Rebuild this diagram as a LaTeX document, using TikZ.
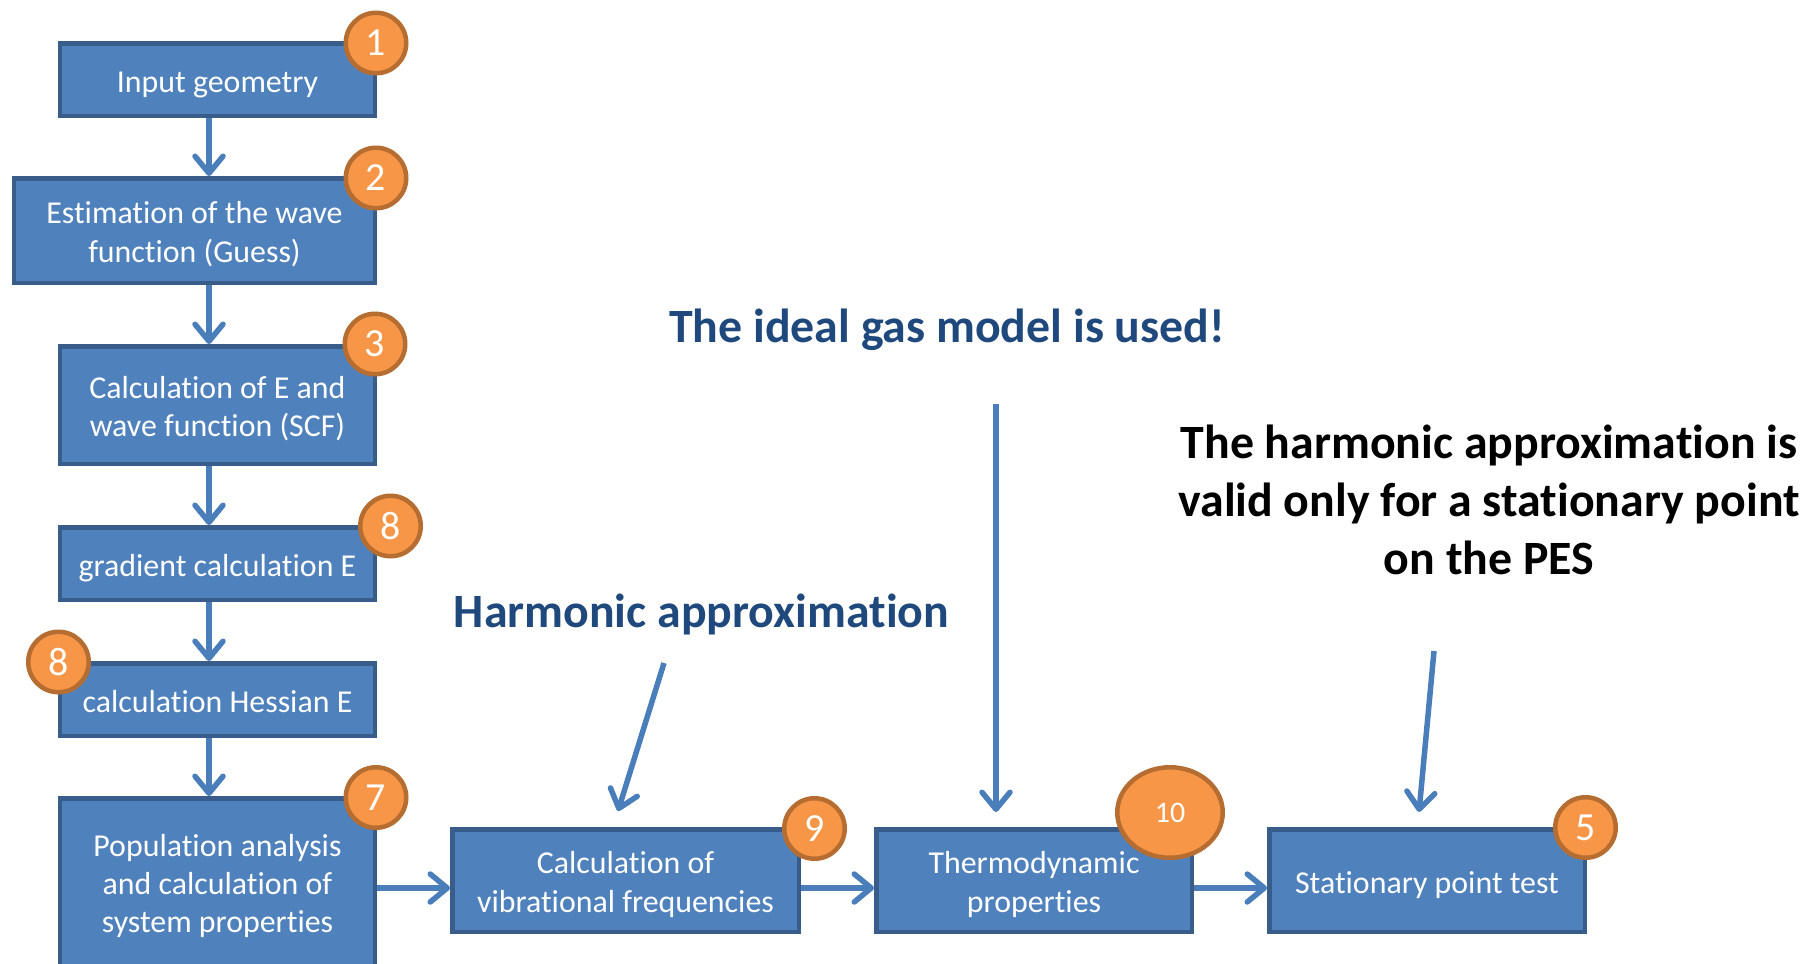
\documentclass[tikz,border=0pt]{standalone}
\usepackage{fontspec}
\setmainfont{Carlito}[Ligatures=NoCommon]
\usetikzlibrary{arrows.meta,shapes.geometric}
\definecolor{boxfill}{HTML}{4F81BD}
\definecolor{boxline}{HTML}{385D8A}
\definecolor{badgefill}{HTML}{F79646}
\definecolor{badgeline}{HTML}{B66D31}
\definecolor{flow}{HTML}{4A7EBB}
\definecolor{notecol}{HTML}{1F497D}
% struts that fix the first line's height and the last line's depth
\newcommand\firststrut{\rule{0pt}{33bp}}
\newcommand\laststrut{\rule[-8bp]{0pt}{0pt}}
\begin{document}
\begin{tikzpicture}[x=1bp,y=-1bp,
  stepbox/.style={draw=boxline, fill=boxfill, line width=4.5bp, text=white,
    align=center, inner sep=0pt, font=\fontsize{32}{38.5}\selectfont},
  badge/.style={circle, draw=badgeline, fill=badgefill, line width=4.5bp,
    text=white, minimum size=60.5bp, inner sep=0pt, font=\fontsize{40}{40}\selectfont},
  flowarrow/.style={draw=flow, line width=5.5bp,
    -{Straight Barb[length=17bp,width=28bp,round]}},
  note/.style={font=\fontsize{48}{58}\selectfont\bfseries, align=center}
]
\clip (0,0) rectangle (1808,963);

% main column of steps
\node[stepbox, minimum width=314.5bp, minimum height=72.5bp]  (b1) at (217.5,79.5) {\firststrut Input geometry\laststrut};
\node[stepbox, minimum width=360.5bp, minimum height=104.5bp] (b2) at (194.5,230.5) {\firststrut Estimation of the wave\\function (Guess)\laststrut};
\node[stepbox, minimum width=314.5bp, minimum height=117.5bp] (b3) at (217.5,405) {\firststrut Calculation of E and\\wave function (SCF)\laststrut};
\node[stepbox, minimum width=314.5bp, minimum height=72.5bp]  (b4) at (217.5,563.5) {\firststrut gradient calculation E\laststrut};
\node[stepbox, minimum width=314.5bp, minimum height=72.5bp]  (b5) at (217.5,699.5) {\firststrut calculation Hessian E\laststrut};
\node[stepbox, minimum width=314.5bp, minimum height=167.5bp] (b6) at (217.5,882) {\firststrut Population analysis\\and calculation of\\system properties\laststrut};

% bottom row
\node[stepbox, minimum width=346.5bp, minimum height=102.5bp] (vib) at (625.5,880.5) {\firststrut Calculation of\\vibrational frequencies\laststrut};
\node[stepbox, minimum width=315.5bp, minimum height=102.5bp] (thermo) at (1034,880.5) {\firststrut Thermodynamic\\properties\laststrut};
\node[stepbox, minimum width=315.5bp, minimum height=102.5bp] (stat) at (1427,880.5) {\firststrut Stationary point test\laststrut};

% connectors down the column
\draw[flowarrow] ([xshift=-8.5bp]b1.south) -- ([xshift=-8.5bp]b1.south |- b2.north);
\draw[flowarrow] ([xshift=-8.5bp]b1.south |- b2.south) -- ([xshift=-8.5bp]b3.north);
\draw[flowarrow] ([xshift=-8.5bp]b3.south) -- ([xshift=-8.5bp]b4.north);
\draw[flowarrow] ([xshift=-8.5bp]b4.south) -- ([xshift=-8.5bp]b5.north);
\draw[flowarrow] ([xshift=-8.5bp]b5.south) -- ([xshift=-8.5bp]b6.north);

% connectors along the bottom row
\draw[flowarrow] ([yshift=-7.5bp]vib.west -| b6.east) -- ([yshift=-7.5bp]vib.west);
\draw[flowarrow] ([yshift=-7.5bp]vib.east) -- ([yshift=-7.5bp]thermo.west);
\draw[flowarrow] ([yshift=-7.5bp]thermo.east) -- ([yshift=-7.5bp]stat.west);

% numbered badges
\node[badge] (n1) at (376,43) {1};
\node[badge] (n2) at (376,178) {2};
\node[badge] (n3) at (375,344) {3};
\node[badge] (n8a) at (390.5,526) {8};
\node[badge] (n8b) at (58.5,662) {8};
\node[badge] (n7) at (376,797.5) {7};
\node[badge] (n9) at (814.5,828.5) {9};
\node[badge, ellipse, minimum width=105.5bp, minimum height=90.5bp,
      font=\fontsize{30}{30}\selectfont] (n10) at (1170,812.5) {10};
\node[badge] (n5) at (1585.5,827.5) {5};

% remarks (base anchor sits on the last line)
\node[note, text=notecol, anchor=base] (harm) at (701.5,627) {Harmonic approximation};
\node[note, text=notecol, anchor=base] (gas) at (947,342) {The ideal gas model is used!};
\node[note, anchor=base] (pes) at (1489,574) {The harmonic approximation is\\valid only for a stationary point\\on the PES};

\coordinate (harmfrom) at (664,663);
\coordinate (harmto) at (618,811);
\coordinate (gasfrom) at (996,404);
\coordinate (gasto) at (996,812);
\coordinate (pesfrom) at (1434,651);
\coordinate (pesto) at (1419,812);
\draw[flowarrow] (harmfrom) -- (harmto);
\draw[flowarrow] (gasfrom) -- (gasto);
\draw[flowarrow] (pesfrom) -- (pesto);
\end{tikzpicture}
\end{document}
